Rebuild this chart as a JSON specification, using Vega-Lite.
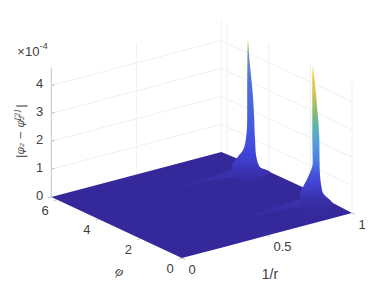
{"$schema":"https://vega.github.io/schema/vega-lite/v6.json","width":388,"height":291,"autosize":{"type":"fit","contains":"padding"},"padding":0,"background":"white","config":{"view":{"stroke":null}},
"data":{"values":[
{"part":"grid","r":0,"phi":6.283,"z":1,"r2":1,"phi2":6.283,"z2":1},{"part":"grid","r":0,"phi":6.283,"z":2,"r2":1,"phi2":6.283,"z2":2},{"part":"grid","r":0,"phi":6.283,"z":3,"r2":1,"phi2":6.283,"z2":3},{"part":"grid","r":0,"phi":6.283,"z":4,"r2":1,"phi2":6.283,"z2":4},
{"part":"grid","r":1,"phi":6.283,"z":1,"r2":1,"phi2":0,"z2":1},{"part":"grid","r":1,"phi":6.283,"z":2,"r2":1,"phi2":0,"z2":2},{"part":"grid","r":1,"phi":6.283,"z":3,"r2":1,"phi2":0,"z2":3},{"part":"grid","r":1,"phi":6.283,"z":4,"r2":1,"phi2":0,"z2":4},
{"part":"grid","r":0.5,"phi":6.283,"z":0,"r2":0.5,"phi2":6.283,"z2":4.7},{"part":"grid","r":1,"phi":6.283,"z":0,"r2":1,"phi2":6.283,"z2":4.7},{"part":"grid","r":1,"phi":6,"z":0,"r2":1,"phi2":6,"z2":4.7},{"part":"grid","r":1,"phi":4,"z":0,"r2":1,"phi2":4,"z2":4.7},{"part":"grid","r":1,"phi":2,"z":0,"r2":1,"phi2":2,"z2":4.7},{"part":"grid","r":1,"phi":0,"z":0,"r2":1,"phi2":0,"z2":4.7},
{"part":"axis","r":0,"phi":6.283,"z":0,"r2":0,"phi2":6.283,"z2":4.63},
{"part":"axis","r":0,"phi":6.283,"z":0,"r2":-0.02,"phi2":6.283,"z2":0},{"part":"axis","r":0,"phi":6.283,"z":1,"r2":0.02,"phi2":6.283,"z2":1},{"part":"axis","r":0,"phi":6.283,"z":2,"r2":0.02,"phi2":6.283,"z2":2},{"part":"axis","r":0,"phi":6.283,"z":3,"r2":0.02,"phi2":6.283,"z2":3},{"part":"axis","r":0,"phi":6.283,"z":4,"r2":0.02,"phi2":6.283,"z2":4},
{"part":"axis","r":0,"phi":6,"z":0,"r2":-0.02,"phi2":6,"z2":0},{"part":"axis","r":0,"phi":4,"z":0,"r2":-0.02,"phi2":4,"z2":0},{"part":"axis","r":0,"phi":2,"z":0,"r2":-0.02,"phi2":2,"z2":0},{"part":"axis","r":0,"phi":0,"z":0,"r2":-0.02,"phi2":0,"z2":0},
{"part":"axis","r":0,"phi":0,"z":0,"r2":0,"phi2":-0.15,"z2":0},{"part":"axis","r":0.5,"phi":0,"z":0,"r2":0.5,"phi2":-0.15,"z2":0},{"part":"axis","r":1,"phi":0,"z":0,"r2":1,"phi2":-0.15,"z2":0},
{"part":"floor","r":0,"phi":6.283,"r2":0,"phi2":6.283},{"part":"floor","r":0.7676,"phi":6.283,"r2":0,"phi2":0},{"part":"floor","r":1,"phi":6.283,"r2":0.2294,"phi2":0},{"part":"floor","r":1,"phi":3.95,"z":0.1,"r2":0.5176,"phi2":0},{"part":"floor","r":1,"phi":2.36,"z":0.1,"r2":0.7118,"phi2":0},{"part":"floor","r":1,"phi":0,"r2":1,"phi2":0},
{"part":"ridge1","r":0.45,"phi":4.712,"w":0},{"part":"ridge1","r":0.6,"phi":4.712,"w":0.1},{"part":"ridge1","r":0.7,"phi":4.712,"w":0.18},{"part":"ridge1","r":0.8,"phi":4.712,"w":0.3},{"part":"ridge1","r":0.9,"phi":4.712,"w":0.5},{"part":"ridge1","r":0.96,"phi":4.712,"w":0.72},
{"part":"ridge2","r":0.45,"phi":1.571,"w":0},{"part":"ridge2","r":0.6,"phi":1.571,"w":0.1},{"part":"ridge2","r":0.7,"phi":1.571,"w":0.18},{"part":"ridge2","r":0.8,"phi":1.571,"w":0.3},{"part":"ridge2","r":0.9,"phi":1.571,"w":0.5},{"part":"ridge2","r":0.96,"phi":1.571,"w":0.72},
{"part":"spike1","r":0.96,"phi":4.712,"z":4.63,"wL":-0.02,"wR":0.05},{"part":"spike1","r":0.96,"phi":4.712,"z":3.91,"wL":-0.01,"wR":0.11},{"part":"spike1","r":0.96,"phi":4.712,"z":2.94,"wL":0,"wR":0.24},{"part":"spike1","r":0.96,"phi":4.712,"z":2.47,"wL":0,"wR":0.29},{"part":"spike1","r":0.96,"phi":4.712,"z":1.76,"wL":0,"wR":0.34},{"part":"spike1","r":0.96,"phi":4.712,"z":1.29,"wL":0.03,"wR":0.36},{"part":"spike1","r":0.96,"phi":4.712,"z":1.04,"wL":0.07,"wR":0.38},{"part":"spike1","r":0.96,"phi":4.712,"z":0.68,"wL":0.2,"wR":0.4},{"part":"spike1","r":0.96,"phi":4.712,"z":0.4,"wL":0.49,"wR":0.45},{"part":"spike1","r":0.96,"phi":4.712,"z":0.07,"wL":0.75,"wR":0.62},{"part":"spike1","r":0.96,"phi":4.712,"z":-0.1,"wL":0.7,"wR":1.1},{"part":"spike1","r":0.96,"phi":4.712,"z":-0.32,"wL":0.5,"wR":0.71},{"part":"spike1","r":0.96,"phi":4.712,"z":-0.6,"wL":0.1,"wR":0.13},
{"part":"spike2","r":0.96,"phi":1.571,"z":4.75,"wL":-0.005,"wR":0.04},{"part":"spike2","r":0.96,"phi":1.571,"z":4.29,"wL":0.015,"wR":0.1},{"part":"spike2","r":0.96,"phi":1.571,"z":3.32,"wL":0.01,"wR":0.22},{"part":"spike2","r":0.96,"phi":1.571,"z":2.14,"wL":0.01,"wR":0.33},{"part":"spike2","r":0.96,"phi":1.571,"z":1.31,"wL":-0.01,"wR":0.34},{"part":"spike2","r":0.96,"phi":1.571,"z":0.88,"wL":0.17,"wR":0.36},{"part":"spike2","r":0.96,"phi":1.571,"z":0.45,"wL":0.46,"wR":0.43},{"part":"spike2","r":0.96,"phi":1.571,"z":0.24,"wL":0.6,"wR":0.5},{"part":"spike2","r":0.96,"phi":1.571,"z":-0.19,"wL":0.5,"wR":0.99},{"part":"spike2","r":0.96,"phi":1.571,"z":-0.37,"wL":0.4,"wR":0.75},{"part":"spike2","r":0.96,"phi":1.571,"z":-0.66,"wL":0.12,"wR":0.12},
{"part":"zlab","r":0,"phi":6.283,"z":0,"t":"0"},{"part":"zlab","r":0,"phi":6.283,"z":1,"t":"1"},{"part":"zlab","r":0,"phi":6.283,"z":2,"t":"2"},{"part":"zlab","r":0,"phi":6.283,"z":3,"t":"3"},{"part":"zlab","r":0,"phi":6.283,"z":4,"t":"4"},
{"part":"plab","r":0,"phi":6,"t":"6"},{"part":"plab","r":0,"phi":4,"t":"4"},{"part":"plab","r":0,"phi":2,"t":"2"},{"part":"plab","r":0,"phi":0,"t":"0"},
{"part":"rlab","r":0,"phi":0,"t":"0"},{"part":"rlab","r":0.5,"phi":0,"t":"0.5"},{"part":"rlab","r":1,"phi":0,"t":"1"},
{"part":"ptitle","r":0,"phi":3,"t":"φ"},{"part":"rtitle","r":0.5,"phi":0,"t":"1/r"},
{"part":"exp","r":0,"phi":6.283,"z":5.2,"t":"×10"},{"part":"expsup","r":0,"phi":6.283,"z":5.42,"t":"-4"},
{"part":"ztitle","r":0,"phi":6.283,"z":1.4,"t":"|φ₂ − φ₂"},{"part":"ztsup","r":0,"phi":6.283,"z":2.75,"t":"[2]"},{"part":"ztend","r":0,"phi":6.283,"z":3.2,"t":"|"}
]},
"transform":[
{"calculate":"182+170*datum.r-20.8*datum.phi","as":"sx"},
{"calculate":"258-45*datum.r-9.7*datum.phi-27.9*(datum.z||0)","as":"sy"},
{"calculate":"182+170*datum.r2-20.8*datum.phi2","as":"sx2"},
{"calculate":"258-45*datum.r2-9.7*datum.phi2-27.9*(datum.z2||0)","as":"sy2"},
{"calculate":"datum.sx-20.8*(datum.wL||0)","as":"sxl"},
{"calculate":"datum.sx+20.8*(datum.wR||0)","as":"sxr"},
{"calculate":"datum.sy-9.7*(datum.w||0)","as":"yu"},
{"calculate":"datum.sy+9.7*(datum.w||0)","as":"yd"}
],
"encoding":{
"x":{"field":"sx","type":"quantitative","scale":{"domain":[0,388],"nice":false,"zero":false},"axis":null},
"y":{"field":"sy","type":"quantitative","scale":{"domain":[291,0],"nice":false,"zero":false},"axis":null}
},
"layer":[
{"transform":[{"filter":"datum.part=='grid'"}],"mark":{"type":"rule","color":"#f0f0f0","strokeWidth":1},"encoding":{"x2":{"field":"sx2"},"y2":{"field":"sy2"}}},
{"transform":[{"filter":"datum.part=='axis'"}],"mark":{"type":"rule","color":"#c4c4c4","strokeWidth":1},"encoding":{"x2":{"field":"sx2"},"y2":{"field":"sy2"}}},
{"transform":[{"filter":"datum.part=='floor'"}],"mark":{"type":"area","fill":"#35289b"},"encoding":{"y2":{"field":"sy2"}}},
{"transform":[{"filter":"datum.part=='ridge1'"}],"mark":{"type":"area","interpolate":"monotone","fill":{"gradient":"linear","x1":0,"y1":0,"x2":1,"y2":0,"stops":[{"offset":0,"color":"#35289b"},{"offset":1,"color":"#3a32ae"}]}},"encoding":{"y":{"field":"yu","type":"quantitative"},"y2":{"field":"yd"}}},
{"transform":[{"filter":"datum.part=='ridge2'"}],"mark":{"type":"area","interpolate":"monotone","fill":{"gradient":"linear","x1":0,"y1":0,"x2":1,"y2":0,"stops":[{"offset":0,"color":"#35289b"},{"offset":1,"color":"#3a32ae"}]}},"encoding":{"y":{"field":"yu","type":"quantitative"},"y2":{"field":"yd"}}},
{"transform":[{"filter":"datum.part=='spike1'"}],"mark":{"type":"area","orient":"horizontal","interpolate":"monotone","fill":{"gradient":"linear","x1":0,"y1":0,"x2":0,"y2":1,"stops":[{"offset":0,"color":"#f4efc0"},{"offset":0.04,"color":"#b9bd80"},{"offset":0.11,"color":"#6d8fc4"},{"offset":0.28,"color":"#4f74da"},{"offset":0.62,"color":"#4458e0"},{"offset":0.75,"color":"#4048dc"},{"offset":0.82,"color":"#3f40d0"},{"offset":0.89,"color":"#3a34b4"},{"offset":0.945,"color":"#372ca5"},{"offset":1,"color":"#35289b"}]}},"encoding":{"x":{"field":"sxl","type":"quantitative"},"x2":{"field":"sxr"}}},
{"transform":[{"filter":"datum.part=='spike2'"}],"mark":{"type":"area","orient":"horizontal","interpolate":"monotone","fill":{"gradient":"linear","x1":0,"y1":0,"x2":0,"y2":1,"stops":[{"offset":0,"color":"#f7f0a0"},{"offset":0.055,"color":"#f0d040"},{"offset":0.2,"color":"#c8c050"},{"offset":0.285,"color":"#8fbc70"},{"offset":0.385,"color":"#5cb4a8"},{"offset":0.48,"color":"#55a5d5"},{"offset":0.615,"color":"#4a80e0"},{"offset":0.715,"color":"#4550d8"},{"offset":0.78,"color":"#4242d0"},{"offset":0.835,"color":"#3c38bc"},{"offset":0.88,"color":"#3830a8"},{"offset":0.935,"color":"#362a9f"},{"offset":1,"color":"#35289b"}]}},"encoding":{"x":{"field":"sxl","type":"quantitative"},"x2":{"field":"sxr"}}},
{"transform":[{"filter":"datum.part=='zlab'"}],"mark":{"type":"text","font":"Liberation Sans","fontSize":13,"color":"#404040","align":"right","baseline":"middle","dx":-8,"dy":-1},"encoding":{"text":{"field":"t"}}},
{"transform":[{"filter":"datum.part=='plab'"}],"mark":{"type":"text","font":"Liberation Sans","fontSize":13,"color":"#404040","align":"center","baseline":"middle","dx":-12,"dy":11},"encoding":{"text":{"field":"t"}}},
{"transform":[{"filter":"datum.part=='rlab'"}],"mark":{"type":"text","font":"Liberation Sans","fontSize":13,"color":"#404040","align":"left","baseline":"middle","dx":6.5,"dy":11.5},"encoding":{"text":{"field":"t"}}},
{"transform":[{"filter":"datum.part=='ptitle'"}],"mark":{"type":"text","font":"Liberation Serif","fontStyle":"italic","fontSize":14,"color":"#404040","align":"center","baseline":"middle","angle":25,"dx":18,"dy":39},"encoding":{"text":{"field":"t"}}},
{"transform":[{"filter":"datum.part=='rtitle'"}],"mark":{"type":"text","font":"Liberation Sans","fontSize":14,"color":"#404040","align":"center","baseline":"middle","dx":3,"dy":39.5},"encoding":{"text":{"field":"t"}}},
{"transform":[{"filter":"datum.part=='exp'"}],"mark":{"type":"text","font":"Liberation Sans","fontSize":13,"color":"#404040","align":"left","baseline":"middle","dx":-34},"encoding":{"text":{"field":"t"}}},
{"transform":[{"filter":"datum.part=='expsup'"}],"mark":{"type":"text","font":"Liberation Sans","fontSize":9,"color":"#404040","align":"left","baseline":"middle","dx":-11.5},"encoding":{"text":{"field":"t"}}},
{"transform":[{"filter":"datum.part=='ztitle'"}],"mark":{"type":"text","font":"DejaVu Serif","fontStyle":"italic","fontSize":10.5,"color":"#404040","align":"left","baseline":"middle","angle":270,"dy":-30},"encoding":{"text":{"field":"t"}}},
{"transform":[{"filter":"datum.part=='ztsup'"}],"mark":{"type":"text","font":"DejaVu Serif","fontStyle":"italic","fontSize":7.5,"color":"#404040","align":"left","baseline":"middle","angle":270,"dy":-33},"encoding":{"text":{"field":"t"}}},
{"transform":[{"filter":"datum.part=='ztend'"}],"mark":{"type":"text","font":"DejaVu Serif","fontSize":10.5,"color":"#404040","align":"left","baseline":"middle","angle":270,"dy":-30},"encoding":{"text":{"field":"t"}}}
]}
